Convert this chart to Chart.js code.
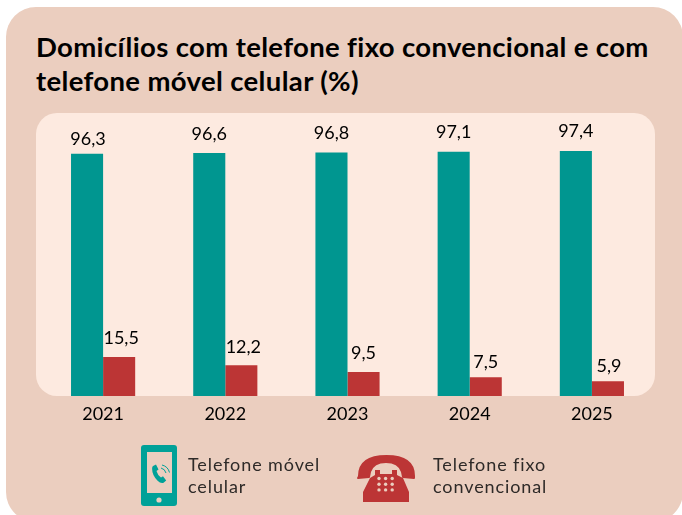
<!DOCTYPE html>
<html lang="pt">
<head>
<meta charset="utf-8">
<title>Domicílios com telefone</title>
<script src="https://cdn.jsdelivr.net/npm/chart.js@4"></script>
<style>
  html, body { margin: 0; padding: 0; background: #fff; }
  body { width: 682px; height: 515px; position: relative; overflow: hidden; font-family: Lato, sans-serif; }
  .card { position: absolute; left: 6px; top: 7px; width: 677px; height: 515px; background: #EBCEBF; border-radius: 30px; }
  .panel { position: absolute; left: 36px; top: 113px; width: 619px; height: 283px; background: #FDEAE0; border-radius: 21px; }
  h1 { position: absolute; left: 36px; top: 30px; margin: 0; width: 645px; font: 700 27.5px/33.5px Lato, sans-serif; letter-spacing: .35px; color: #000; }
  canvas { position: absolute; left: 0; top: 0; }
  .leg { position: absolute; font: 400 18px/22px Lato, sans-serif; letter-spacing: .9px; color: #2e2a28; }
  svg { position: absolute; left: 0; top: 0; }
</style>
</head>
<body>
<div class="card"></div>
<div class="panel"></div>
<h1>Domicílios com telefone fixo convencional e com<br>telefone móvel celular (%)</h1>
<canvas id="chart" width="682" height="515"></canvas>

<svg width="682" height="515">
  <!-- celular -->
  <rect x="141" y="445" width="36" height="61" rx="3" fill="#00A198"/>
  <rect x="147" y="452" width="25" height="41" fill="#EBCEBF"/>
  <circle cx="159" cy="500" r="2.6" fill="#EBCEBF"/>
  <path d="M153 466 l3 -1.500 l2.500 5 l-2 1.600 q1 4 4.500 6.500 l2 -1.400 l3.200 4.300 l-2.600 2.200 q-3 1 -6 -2 q-5.500 -5.500 -5.500 -12 q0 -2 0.900 -2.700z" fill="#00A198"/>
  <path d="M161 468 q4 1 5 5 M162 465 q6 1.500 7.500 7.500" fill="none" stroke="#00A198" stroke-width="1"/>
  <!-- telefone fixo -->
  <path d="M358 476 q0 -21 28.500 -21 q28.500 0 28.500 21 l0 2 q0 1 -1 1 l-11 -1 q-1 0 -1 -1 l-1 -5 q-3 -9 -15 -9 q-12 0 -15 9 l-1 5 q0 1 -1 1 l-11 1 q-1 0 -1 -1z" fill="#BC3535"/>
  <path d="M375 470 h5 v4 h12 v-4 h5 v5 l6 3 l6 14 v10 h-46 v-10 l7 -14 l5 -3z" fill="#BC3535"/>
  <g fill="#EBCEBF" id="dots"></g>
</svg>
<div class="leg" style="left:188px;top:453px">Telefone móvel<br>celular</div>
<div class="leg" style="left:433px;top:453px">Telefone fixo<br>convencional</div>

<script>
const years = ["2021", "2022", "2023", "2024", "2025"];
const celular = [96.3, 96.6, 96.8, 97.1, 97.4];
const fixo = [15.5, 12.2, 9.5, 7.5, 5.9];

// furos do disco do telefone
const dots = document.getElementById("dots");
for (let r = 0; r < 3; r++) {
  for (let c = 0; c < 3; c++) {
    const d = document.createElementNS("http://www.w3.org/2000/svg", "circle");
    d.setAttribute("cx", 379 + c * 6.6);
    d.setAttribute("cy", 478.500 + r * 5.700);
    d.setAttribute("r", 1.7);
    dots.appendChild(d);
  }
}

const fmt = v => v.toFixed(1).replace(".", ",");

// rótulos de valor acima das barras
const valueLabels = {
  id: "valueLabels",
  afterDatasetsDraw(chart) {
    const ctx = chart.ctx;
    const lift = [[15, 19, 19, 20, 20], [19, 18, 19, 15, 15]];
    const shift = [[1, 0, 0, 0, 0], [2, 2, 0, 0, 1]];
    ctx.save();
    ctx.font = "400 18px Lato";
    ctx.fillStyle = "#000";
    ctx.textAlign = "center";
    ctx.textBaseline = "middle";
    chart.data.datasets.forEach((ds, i) => {
      chart.getDatasetMeta(i).data.forEach((bar, j) => {
        ctx.fillText(fmt(ds.data[j]), bar.x + shift[i][j], bar.y - lift[i][j]);
      });
    });
    ctx.restore();
  }
};

new Chart(document.getElementById("chart"), {
  type: "bar",
  data: {
    labels: years,
    datasets: [
      { label: "Telefone móvel celular", data: celular, backgroundColor: "#009690", borderWidth: 0 },
      { label: "Telefone fixo convencional", data: fixo, backgroundColor: "#BC3535", borderWidth: 0 }
    ]
  },
  options: {
    responsive: false,
    animation: false,
    categoryPercentage: 0.525,
    barPercentage: 1,
    layout: { padding: { left: 42, right: 29, top: 113, bottom: 89 } },
    plugins: { legend: { display: false }, tooltip: { enabled: false } },
    scales: {
      x: {
        grid: { display: false },
        border: { display: false },
        ticks: { color: "#000", font: { family: "Lato", size: 18 }, padding: -1, maxRotation: 0 },
        afterFit(scale) { scale.height = 30; }
      },
      y: { display: false, min: 0, max: 112.5 }
    }
  },
  plugins: [valueLabels]
});
</script>
</body>
</html>
